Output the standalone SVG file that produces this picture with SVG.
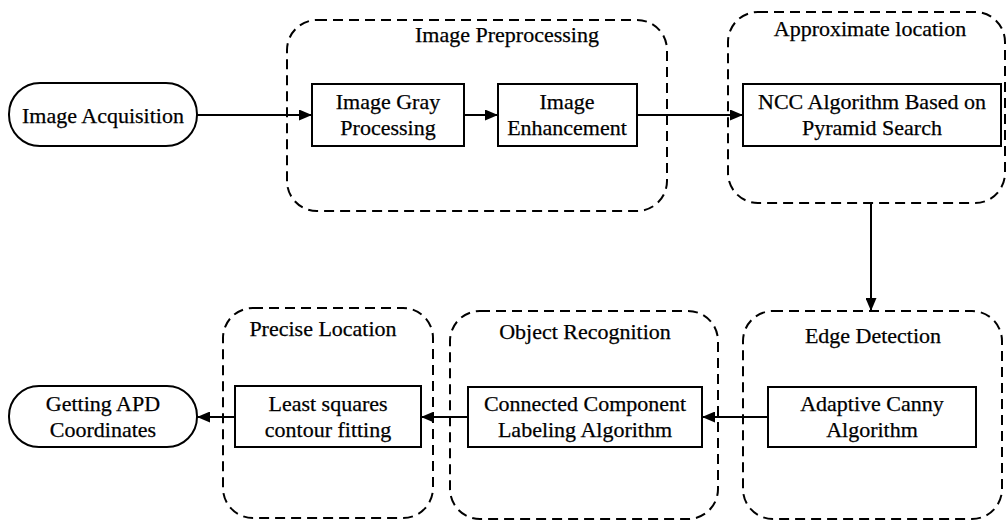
<svg xmlns="http://www.w3.org/2000/svg" width="1008" height="521" viewBox="0 0 1008 521">
  <style>
    .stage { fill: none; stroke: #000; stroke-width: 2; stroke-dasharray: 10 6; }
    .box { fill: #fff; stroke: #000; stroke-width: 2; }
    .pill { fill: #fff; stroke: #000; stroke-width: 2; }
    .lbl { font-family: "Liberation Serif", "Times New Roman", serif; font-size: 22px; fill: #000; stroke: #000; stroke-width: 0.25; text-anchor: middle; }
    .edge { fill: none; stroke: #000; stroke-width: 2; marker-end: url(#arrow); }
  </style>
  <defs>
    <marker id="arrow" viewBox="0 0 13 11" refX="13" refY="5.5" markerWidth="13" markerHeight="11" markerUnits="userSpaceOnUse" orient="auto">
      <path d="M0,0 L13,5.5 L0,11 Z" fill="#000"/>
    </marker>
  </defs>
  <rect width="1008" height="521" fill="#fff"/>

  <!-- stage containers -->
  <g id="stage-preprocessing">
    <rect class="stage" x="287" y="20" width="380" height="191" rx="30"/>
    <text class="lbl" x="507" y="42">Image Preprocessing</text>
  </g>
  <g id="stage-approximate">
    <rect class="stage" x="728" y="12" width="277" height="191" rx="30"/>
    <text class="lbl" x="870" y="36">Approximate location</text>
  </g>
  <g id="stage-edge">
    <rect class="stage" x="743" y="311" width="259" height="208" rx="30"/>
    <text class="lbl" x="873" y="343">Edge Detection</text>
  </g>
  <g id="stage-object">
    <rect class="stage" x="450" y="311" width="268" height="208" rx="30"/>
    <text class="lbl" x="585" y="339">Object Recognition</text>
  </g>
  <g id="stage-precise">
    <rect class="stage" x="223" y="308" width="210" height="210" rx="30"/>
    <text class="lbl" x="323" y="336">Precise Location</text>
  </g>

  <!-- process nodes -->
  <g id="image-acquisition">
    <rect class="pill" x="9" y="83" width="188" height="63" rx="31"/>
    <text class="lbl" x="103" y="123">Image Acquisition</text>
  </g>
  <g id="gray-processing">
    <rect class="box" x="312" y="84" width="152" height="62"/>
    <text class="lbl" x="388" y="109">Image Gray</text>
    <text class="lbl" x="388" y="135">Processing</text>
  </g>
  <g id="enhancement">
    <rect class="box" x="498" y="84" width="139" height="62"/>
    <text class="lbl" x="567" y="109">Image</text>
    <text class="lbl" x="567" y="135">Enhancement</text>
  </g>
  <g id="ncc">
    <rect class="box" x="743" y="84" width="258" height="62"/>
    <text class="lbl" x="872" y="109">NCC Algorithm Based on</text>
    <text class="lbl" x="872" y="135">Pyramid Search</text>
  </g>
  <g id="canny">
    <rect class="box" x="768" y="387" width="208" height="60"/>
    <text class="lbl" x="872" y="411">Adaptive Canny</text>
    <text class="lbl" x="872" y="437">Algorithm</text>
  </g>
  <g id="ccl">
    <rect class="box" x="468" y="387" width="234" height="60"/>
    <text class="lbl" x="585" y="411">Connected Component</text>
    <text class="lbl" x="585" y="437">Labeling Algorithm</text>
  </g>
  <g id="least-squares">
    <rect class="box" x="235" y="386" width="186" height="61"/>
    <text class="lbl" x="328" y="411">Least squares</text>
    <text class="lbl" x="328" y="437">contour fitting</text>
  </g>
  <g id="apd-coordinates">
    <rect class="pill" x="9" y="386" width="188" height="61" rx="30"/>
    <text class="lbl" x="103" y="411">Getting APD</text>
    <text class="lbl" x="103" y="437">Coordinates</text>
  </g>

  <!-- connectors -->
  <g id="connectors">
    <line class="edge" x1="197" y1="115" x2="312" y2="115"/>
    <line class="edge" x1="464" y1="115" x2="498" y2="115"/>
    <line class="edge" x1="637" y1="115" x2="743" y2="115"/>
    <line class="edge" x1="871" y1="203" x2="871" y2="311"/>
    <line class="edge" x1="768" y1="417" x2="702" y2="417"/>
    <line class="edge" x1="468" y1="417" x2="421" y2="417"/>
    <line class="edge" x1="235" y1="417" x2="197" y2="417"/>
  </g>
</svg>
